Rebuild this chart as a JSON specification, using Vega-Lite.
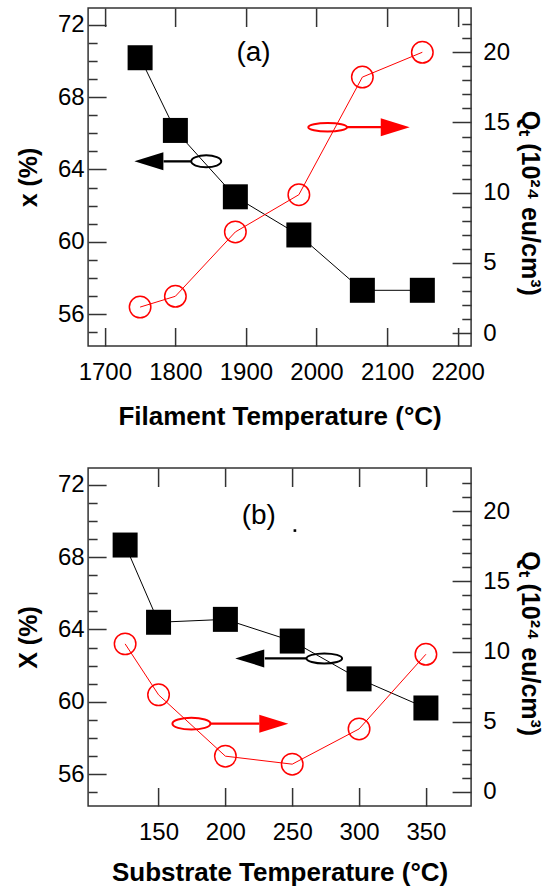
{
  "$schema": "https://vega.github.io/schema/vega-lite/v6.json",
  "padding": {"left": 15.1, "top": 6, "right": 20, "bottom": 0},
  "spacing": 36,
  "resolve": {"scale": {"shape": "independent"}},
  "config": {
    "view": {"stroke": "#333333", "strokeWidth": 1.5},
    "axis": {"domain": false, "grid": false, "tickColor": "#333333", "tickWidth": 1.5, "labelFont": "Liberation Sans", "labelFontSize": 24, "labelColor": "#000000", "labelFlush": false, "titleFont": "Liberation Sans", "titleFontSize": 25, "titleFontWeight": "bold", "titleColor": "#000000"},
    "text": {"font": "Liberation Sans"}
  },
  "datasets": {
    "a_black": [{"T": 1750, "x": 70.18}, {"T": 1800, "x": 66.16}, {"T": 1885, "x": 62.49}, {"T": 1975, "x": 60.38}, {"T": 2065, "x": 57.32}, {"T": 2150, "x": 57.32}],
    "a_red": [{"T": 1750, "Q": 1.86}, {"T": 1800, "Q": 2.63}, {"T": 1885, "Q": 7.21}, {"T": 1975, "Q": 9.86}, {"T": 2065, "Q": 18.23}, {"T": 2150, "Q": 20.0}],
    "a_shaft": [{"T": 1783.2, "T2": 1822, "y": 64.45, "side": "left"}, {"T": 2043.2, "T2": 2091.4, "y": 66.34, "side": "right"}],
    "a_head": [{"T": 1762.4, "y": 64.45, "side": "left"}, {"T": 2111.6, "y": 66.34, "side": "right"}],
    "a_ell": [{"T": 1843.7, "y": 64.45, "side": "left"}, {"T": 2015.8, "y": 66.34, "side": "right"}],
    "a_lab": [{"T": 1910.7, "y": 70.42, "label": "(a)"}],
    "b_black": [{"T": 125, "x": 68.67}, {"T": 150, "x": 64.4}, {"T": 200, "x": 64.56}, {"T": 250, "x": 63.36}, {"T": 300, "x": 61.27}, {"T": 350, "x": 59.66}],
    "b_red": [{"T": 125, "Q": 10.55}, {"T": 150, "Q": 6.92}, {"T": 200, "Q": 2.55}, {"T": 250, "Q": 1.98}, {"T": 300, "Q": 4.49}, {"T": 350, "Q": 9.81}],
    "b_shaft": [{"T": 229.5, "T2": 260.7, "y": 62.4, "side": "left"}, {"T": 188.8, "T2": 225.5, "y": 58.79, "side": "right"}],
    "b_head": [{"T": 218.2, "y": 62.4, "side": "left"}, {"T": 236.2, "y": 58.79, "side": "right"}],
    "b_ell": [{"T": 274, "y": 62.4, "side": "left"}, {"T": 174.6, "y": 58.79, "side": "right"}],
    "b_lab": [{"T": 225, "y": 70.3, "label": "(b)"}],
    "b_dot": [{"T": 252, "y": 69.47}]
  },
  "vconcat": [
    {
      "width": 383, "height": 338,
      "resolve": {"scale": {"y": "independent", "shape": "independent"}, "axis": {"x": "independent"}},
      "layer": [
        {
          "data": {"name": "a_black"},
          "mark": {"type": "line", "color": "#000000", "strokeWidth": 1},
          "encoding": {
            "x": {"field": "T", "type": "quantitative", "scale": {"domain": [1676.3, 2219.1], "nice": false, "zero": false},
              "axis": {"orient": "bottom", "values": [1700, 1800, 1900, 2000, 2100, 2200], "format": "d", "tickSize": -18.5, "labelPadding": 33, "title": "Filament Temperature (°C)", "titleFontSize": 26, "titleY": 70, "titleBaseline": "middle"}},
            "y": {"field": "x", "type": "quantitative", "scale": {"domain": [54.24, 72.93], "nice": false, "zero": false},
              "axis": {"orient": "left", "values": [56, 60, 64, 68, 72], "tickSize": -18, "labelPadding": 22, "title": "x (%)", "titleX": -59.7, "titleAngle": 270, "titleBaseline": "middle", "titleAlign": "center"}}
          }
        },
        {
          "data": {"name": "a_black"},
          "mark": {"type": "square", "color": "#000000", "size": 625, "opacity": 1},
          "encoding": {
            "x": {"field": "T", "type": "quantitative", "scale": {"domain": [1676.3, 2219.1], "nice": false, "zero": false},
              "axis": {"orient": "top", "values": [1700, 1800, 1900, 2000, 2100, 2200], "tickSize": -18.5, "labels": false, "title": null}},
            "y": {"field": "x", "type": "quantitative", "scale": {"domain": [54.24, 72.93], "nice": false, "zero": false},
              "axis": {"orient": "left", "values": [55, 57, 58, 59, 61, 62, 63, 65, 66, 67, 69, 70, 71], "tickSize": -9, "labels": false, "title": null}}
          }
        },
        {
          "data": {"name": "a_red"},
          "mark": {"type": "line", "color": "#ff0000", "strokeWidth": 1},
          "encoding": {
            "x": {"field": "T", "type": "quantitative", "scale": {"domain": [1676.3, 2219.1], "nice": false, "zero": false}, "axis": null},
            "y": {"field": "Q", "type": "quantitative", "scale": {"domain": [-0.91, 23.15], "nice": false, "zero": false},
              "axis": {"orient": "right", "values": [0, 5, 10, 15, 20], "tickSize": -19, "labelPadding": 30.7, "title": "Q\u209c (10\u00b2\u2074 eu/cm\u00b3)", "titleX": 58.7, "titleY": 194.8, "titleAngle": 90, "titleBaseline": "middle", "titleAlign": "center"}}
          }
        },
        {
          "data": {"name": "a_red"},
          "mark": {"type": "point", "shape": "circle", "filled": false, "color": "#ff0000", "strokeWidth": 1.5, "size": 462, "opacity": 1},
          "encoding": {
            "x": {"field": "T", "type": "quantitative", "scale": {"domain": [1676.3, 2219.1], "nice": false, "zero": false}, "axis": null},
            "y": {"field": "Q", "type": "quantitative", "scale": {"domain": [-0.91, 23.15], "nice": false, "zero": false},
              "axis": {"orient": "right", "values": [1, 2, 3, 4, 6, 7, 8, 9, 11, 12, 13, 14, 16, 17, 18, 19, 21, 22], "tickSize": -9.3, "labels": false, "title": null}}
          }
        },
        {
          "data": {"name": "a_shaft"},
          "mark": {"type": "rule", "strokeWidth": 2.3},
          "encoding": {
            "x": {"field": "T", "type": "quantitative", "scale": {"domain": [1676.3, 2219.1], "nice": false, "zero": false}, "axis": null},
            "x2": {"field": "T2"},
            "y": {"field": "y", "type": "quantitative", "scale": {"domain": [54.24, 72.93], "nice": false, "zero": false}, "axis": null},
            "color": {"field": "side", "type": "nominal", "scale": {"domain": ["left", "right"], "range": ["#000000", "#ff0000"]}, "legend": null}
          }
        },
        {
          "data": {"name": "a_head"},
          "mark": {"type": "point", "filled": true, "size": 841, "opacity": 1, "strokeWidth": 0},
          "encoding": {
            "x": {"field": "T", "type": "quantitative", "scale": {"domain": [1676.3, 2219.1], "nice": false, "zero": false}, "axis": null},
            "y": {"field": "y", "type": "quantitative", "scale": {"domain": [54.24, 72.93], "nice": false, "zero": false}, "axis": null},
            "shape": {"field": "side", "type": "nominal", "scale": {"domain": ["left", "right"], "range": ["M-1,0L1,-0.62L1,0.62Z", "M1,0L-1,-0.62L-1,0.62Z"]}, "legend": null},
            "color": {"field": "side", "type": "nominal", "scale": {"domain": ["left", "right"], "range": ["#000000", "#ff0000"]}, "legend": null}
          }
        },
        {
          "data": {"name": "a_ell"},
          "mark": {"type": "point", "filled": false, "size": 900, "opacity": 1, "strokeWidth": 2},
          "encoding": {
            "x": {"field": "T", "type": "quantitative", "scale": {"domain": [1676.3, 2219.1], "nice": false, "zero": false}, "axis": null},
            "y": {"field": "y", "type": "quantitative", "scale": {"domain": [54.24, 72.93], "nice": false, "zero": false}, "axis": null},
            "shape": {"field": "side", "type": "nominal", "scale": {"domain": ["left", "right"], "range": ["M-1,0A1,0.4 0 1,1 1,0A1,0.4 0 1,1 -1,0Z", "M-1.29,0A1.29,0.283 0 1,1 1.29,0A1.29,0.283 0 1,1 -1.29,0Z"]}, "legend": null},
            "color": {"field": "side", "type": "nominal", "scale": {"domain": ["left", "right"], "range": ["#000000", "#ff0000"]}, "legend": null}
          }
        },
        {
          "data": {"name": "a_lab"},
          "mark": {"type": "text", "fontSize": 28, "color": "#000000", "baseline": "middle", "align": "center"},
          "encoding": {
            "x": {"field": "T", "type": "quantitative", "scale": {"domain": [1676.3, 2219.1], "nice": false, "zero": false}, "axis": null},
            "y": {"field": "y", "type": "quantitative", "scale": {"domain": [54.24, 72.93], "nice": false, "zero": false}, "axis": null},
            "text": {"field": "label"}
          }
        }
      ]
    },
    {
      "width": 383, "height": 338,
      "resolve": {"scale": {"y": "independent", "shape": "independent"}, "axis": {"x": "independent"}},
      "layer": [
        {
          "data": {"name": "b_black"},
          "mark": {"type": "line", "color": "#000000", "strokeWidth": 1},
          "encoding": {
            "x": {"field": "T", "type": "quantitative", "scale": {"domain": [97.3, 383.8], "nice": false, "zero": false},
              "axis": {"orient": "bottom", "values": [150, 200, 250, 300, 350], "format": "d", "tickSize": -18.5, "labelPadding": 33, "title": "Substrate Temperature (°C)", "titleFontSize": 26, "titleY": 67, "titleBaseline": "middle"}},
            "y": {"field": "x", "type": "quantitative", "scale": {"domain": [54.24, 72.93], "nice": false, "zero": false},
              "axis": {"orient": "left", "values": [56, 60, 64, 68, 72], "tickSize": -18, "labelPadding": 22, "title": "X (%)", "titleX": -59.7, "titleAngle": 270, "titleBaseline": "middle", "titleAlign": "center"}}
          }
        },
        {
          "data": {"name": "b_black"},
          "mark": {"type": "square", "color": "#000000", "size": 625, "opacity": 1},
          "encoding": {
            "x": {"field": "T", "type": "quantitative", "scale": {"domain": [97.3, 383.8], "nice": false, "zero": false},
              "axis": {"orient": "top", "values": [150, 200, 250, 300, 350], "tickSize": -18.5, "labels": false, "title": null}},
            "y": {"field": "x", "type": "quantitative", "scale": {"domain": [54.24, 72.93], "nice": false, "zero": false},
              "axis": {"orient": "left", "values": [55, 57, 58, 59, 61, 62, 63, 65, 66, 67, 69, 70, 71], "tickSize": -9, "labels": false, "title": null}}
          }
        },
        {
          "data": {"name": "b_red"},
          "mark": {"type": "line", "color": "#ff0000", "strokeWidth": 1},
          "encoding": {
            "x": {"field": "T", "type": "quantitative", "scale": {"domain": [97.3, 383.8], "nice": false, "zero": false}, "axis": null},
            "y": {"field": "Q", "type": "quantitative", "scale": {"domain": [-1.0, 23.08], "nice": false, "zero": false},
              "axis": {"orient": "right", "values": [0, 5, 10, 15, 20], "tickSize": -19, "labelPadding": 30.7, "title": "Q\u209c (10\u00b2\u2074 eu/cm\u00b3)", "titleX": 58.7, "titleY": 175.2, "titleAngle": 90, "titleBaseline": "middle", "titleAlign": "center"}}
          }
        },
        {
          "data": {"name": "b_red"},
          "mark": {"type": "point", "shape": "circle", "filled": false, "color": "#ff0000", "strokeWidth": 1.5, "size": 462, "opacity": 1},
          "encoding": {
            "x": {"field": "T", "type": "quantitative", "scale": {"domain": [97.3, 383.8], "nice": false, "zero": false}, "axis": null},
            "y": {"field": "Q", "type": "quantitative", "scale": {"domain": [-1.0, 23.08], "nice": false, "zero": false},
              "axis": {"orient": "right", "values": [1, 2, 3, 4, 6, 7, 8, 9, 11, 12, 13, 14, 16, 17, 18, 19, 21, 22], "tickSize": -9.3, "labels": false, "title": null}}
          }
        },
        {
          "data": {"name": "b_shaft"},
          "mark": {"type": "rule", "strokeWidth": 2.3},
          "encoding": {
            "x": {"field": "T", "type": "quantitative", "scale": {"domain": [97.3, 383.8], "nice": false, "zero": false}, "axis": null},
            "x2": {"field": "T2"},
            "y": {"field": "y", "type": "quantitative", "scale": {"domain": [54.24, 72.93], "nice": false, "zero": false}, "axis": null},
            "color": {"field": "side", "type": "nominal", "scale": {"domain": ["left", "right"], "range": ["#000000", "#ff0000"]}, "legend": null}
          }
        },
        {
          "data": {"name": "b_head"},
          "mark": {"type": "point", "filled": true, "size": 841, "opacity": 1, "strokeWidth": 0},
          "encoding": {
            "x": {"field": "T", "type": "quantitative", "scale": {"domain": [97.3, 383.8], "nice": false, "zero": false}, "axis": null},
            "y": {"field": "y", "type": "quantitative", "scale": {"domain": [54.24, 72.93], "nice": false, "zero": false}, "axis": null},
            "shape": {"field": "side", "type": "nominal", "scale": {"domain": ["left", "right"], "range": ["M-1,0L1,-0.62L1,0.62Z", "M1,0L-1,-0.62L-1,0.62Z"]}, "legend": null},
            "color": {"field": "side", "type": "nominal", "scale": {"domain": ["left", "right"], "range": ["#000000", "#ff0000"]}, "legend": null}
          }
        },
        {
          "data": {"name": "b_ell"},
          "mark": {"type": "point", "filled": false, "size": 900, "opacity": 1, "strokeWidth": 2},
          "encoding": {
            "x": {"field": "T", "type": "quantitative", "scale": {"domain": [97.3, 383.8], "nice": false, "zero": false}, "axis": null},
            "y": {"field": "y", "type": "quantitative", "scale": {"domain": [54.24, 72.93], "nice": false, "zero": false}, "axis": null},
            "shape": {"field": "side", "type": "nominal", "scale": {"domain": ["left", "right"], "range": ["M-1.187,0A1.187,0.333 0 1,1 1.187,0A1.187,0.333 0 1,1 -1.187,0Z", "M-1.267,0A1.267,0.39 0 1,1 1.267,0A1.267,0.39 0 1,1 -1.267,0Z"]}, "legend": null},
            "color": {"field": "side", "type": "nominal", "scale": {"domain": ["left", "right"], "range": ["#000000", "#ff0000"]}, "legend": null}
          }
        },
        {
          "data": {"name": "b_lab"},
          "mark": {"type": "text", "fontSize": 28, "color": "#000000", "baseline": "middle", "align": "center"},
          "encoding": {
            "x": {"field": "T", "type": "quantitative", "scale": {"domain": [97.3, 383.8], "nice": false, "zero": false}, "axis": null},
            "y": {"field": "y", "type": "quantitative", "scale": {"domain": [54.24, 72.93], "nice": false, "zero": false}, "axis": null},
            "text": {"field": "label"}
          }
        },
        {
          "data": {"name": "b_dot"},
          "mark": {"type": "point", "filled": true, "shape": "square", "size": 7, "color": "#000000", "opacity": 1},
          "encoding": {
            "x": {"field": "T", "type": "quantitative", "scale": {"domain": [97.3, 383.8], "nice": false, "zero": false}, "axis": null},
            "y": {"field": "y", "type": "quantitative", "scale": {"domain": [54.24, 72.93], "nice": false, "zero": false}, "axis": null}
          }
        }
      ]
    }
  ]
}
